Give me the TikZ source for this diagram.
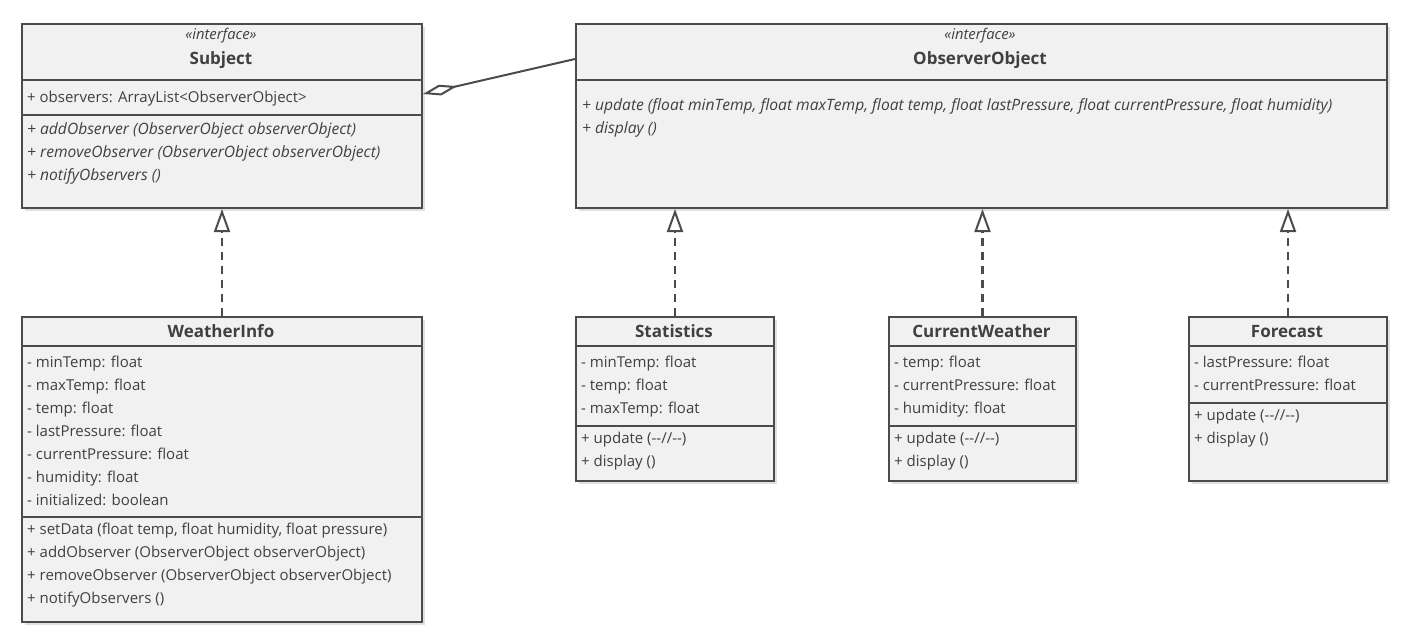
\documentclass[tikz,border=0pt]{standalone}
\usepackage{fontspec}
\setmainfont{Open Sans}
\usepackage{xcolor}
\usetikzlibrary{positioning,arrows.meta,shadows}
\definecolor{umlline}{HTML}{4B4B4B}
\definecolor{umlfill}{HTML}{F1F1F1}
\definecolor{umltext}{HTML}{404040}

\begin{document}
\begin{tikzpicture}[
    x=1pt, y=-1pt,
    classbox/.style = {draw=umlline, fill=umlfill, line width=2pt, anchor=north west, inner sep=0pt,
      drop shadow={shadow xshift=3pt, shadow yshift=-3pt, fill=black, opacity=0.12}},
    divider/.style = {draw=umlline, line width=2pt},
    classname/.style = {anchor=base, inner sep=0pt, text=umltext, font=\fontsize{17}{20}\selectfont\bfseries},
    stereo/.style = {anchor=base, inner sep=0pt, text=umltext, font=\fontsize{14.8}{16}\selectfont\itshape},
    members/.style = {anchor=north west, align=left, inner sep=0pt, text=umltext, font=\fontsize{15}{23}\selectfont},
    ops/.style = {members, font=\fontsize{15.6}{23}\selectfont\itshape},
    realize/.style = {draw=umlline, line width=2.2pt, dash pattern=on 8pt off 6pt,
      -{Triangle[open, length=23pt, width=16pt, line width=2pt]}},
    aggregate/.style = {draw=umlline, line width=2pt,
      {Diamond[open, length=35pt, width=11pt, line width=2pt]}-}
  ]
    \useasboundingbox (0,0) rectangle (1407,641);

    % interfaces
    \node[classbox, minimum width=400pt, minimum height=184pt] (subject) at (21,23) {};
    \node[stereo] (subject_st) at (221,39) {«interface»};
    \node[classname] (subject_nm) at (221,64) {Subject};
    \draw[divider] (subject.west |- 0,80) -- (subject.east |- 0,80);
    \draw[divider] (subject.west |- 0,115) -- (subject.east |- 0,115);
    \node[members] (subject_at) at (27,91) {+ observers: ArrayList<ObserverObject>};
    \node[ops] (subject_op) at (27,122)
      {+ addObserver (ObserverObject observerObject)\\
       + removeObserver (ObserverObject observerObject)\\
       + notifyObservers ()};

    \node[classbox, minimum width=811pt, minimum height=184pt] (observer) at (575,23) {};
    \node[stereo] (observer_st) at (980,39) {«interface»};
    \node[classname] (observer_nm) at (980,64) {ObserverObject};
    \draw[divider] (observer.west |- 0,80) -- (observer.east |- 0,80);
    \node[ops] (observer_op) at (582,98)
      {+ update (float minTemp, float maxTemp, float temp, float lastPressure, float currentPressure, float humidity)\\
       + display ()};

    % classes
    \node[classbox, minimum width=400pt, minimum height=305pt] (weather) at (21,316) {};
    \node[classname] (weather_nm) at (221,337) {WeatherInfo};
    \draw[divider] (weather.west |- 0,346) -- (weather.east |- 0,346);
    \draw[divider] (weather.west |- 0,517) -- (weather.east |- 0,517);
    \node[members] (weather_at) at (27,356)
      {- minTemp: float\\ - maxTemp: float\\ - temp: float\\ - lastPressure: float\\
       - currentPressure: float\\ - humidity: float\\ - initialized: boolean};
    \node[members] (weather_op) at (27,523)
      {+ setData (float temp, float humidity, float pressure)\\
       + addObserver (ObserverObject observerObject)\\
       + removeObserver (ObserverObject observerObject)\\
       + notifyObservers ()};

    \node[classbox, minimum width=198pt, minimum height=164pt] (stats) at (575,316) {};
    \node[classname] (stats_nm) at (674,337) {Statistics};
    \draw[divider] (stats.west |- 0,346) -- (stats.east |- 0,346);
    \draw[divider] (stats.west |- 0,426) -- (stats.east |- 0,426);
    \node[members] (stats_at) at (581,356) {- minTemp: float\\ - temp: float\\ - maxTemp: float};
    \node[members] (stats_op) at (581,432) {+ update (-{}-//-{}-)\\ + display ()};

    \node[classbox, minimum width=187pt, minimum height=164pt] (current) at (888,316) {};
    \node[classname] (current_nm) at (981.5,337) {CurrentWeather};
    \draw[divider] (current.west |- 0,346) -- (current.east |- 0,346);
    \draw[divider] (current.west |- 0,426) -- (current.east |- 0,426);
    \node[members] (current_at) at (894,356) {- temp: float\\ - currentPressure: float\\ - humidity: float};
    \node[members] (current_op) at (894,432) {+ update (-{}-//-{}-)\\ + display ()};

    \node[classbox, minimum width=198pt, minimum height=164pt] (forecast) at (1188,316) {};
    \node[classname] (forecast_nm) at (1287,337) {Forecast};
    \draw[divider] (forecast.west |- 0,346) -- (forecast.east |- 0,346);
    \draw[divider] (forecast.west |- 0,403) -- (forecast.east |- 0,403);
    \node[members] (forecast_at) at (1194,356) {- lastPressure: float\\ - currentPressure: float};
    \node[members] (forecast_op) at (1194,409) {+ update (-{}-//-{}-)\\ + display ()};

    % relations
    \draw[aggregate] ([yshift=22pt]subject.east) -- ([yshift=57pt]observer.west);
    \draw[realize] (weather.north) -- (subject.south);
    \draw[realize] (stats.north) -- (stats.north |- observer.south);
    \draw[realize] (current.north) -- (current.north |- observer.south);
    \draw[realize] (forecast.north) -- (forecast.north |- observer.south);
  \end{tikzpicture}
\end{document}
